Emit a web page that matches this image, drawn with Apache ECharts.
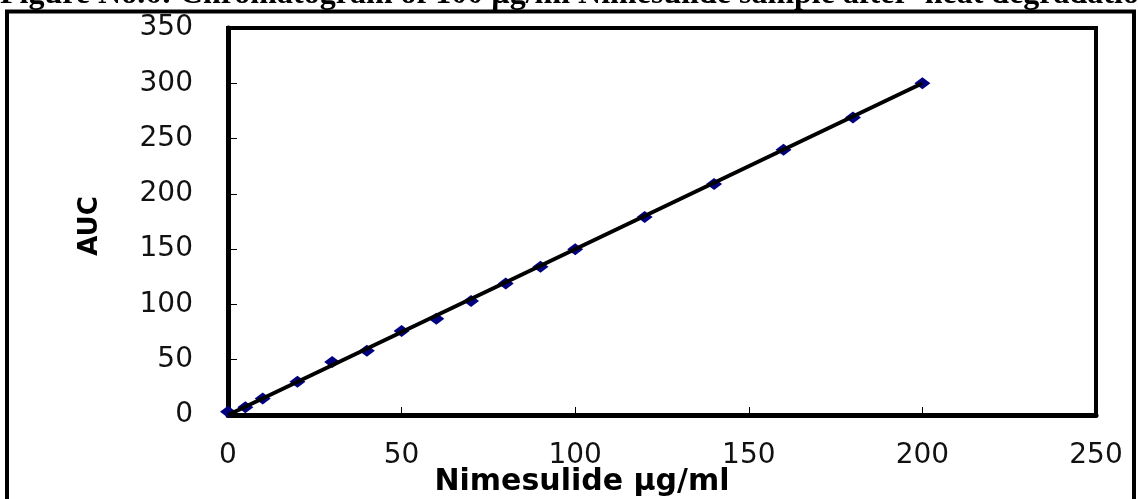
<!DOCTYPE html>
<html>
<head>
<meta charset="utf-8">
<script src="https://cdn.jsdelivr.net/npm/echarts@6/dist/echarts.min.js"></script>
<style>
  html, body { margin: 0; padding: 0; background: #fff; }
  #chart { width: 1138px; height: 499px; }
</style>
</head>
<body>
<div id="chart"></div>
<script>
// 数据
const concentration = [0, 5, 10, 20, 30, 40, 50, 60, 70, 80, 90, 100, 120, 140, 160, 180, 200]
const auc = [3, 7, 15, 30, 48, 58, 76, 87, 103, 119, 134, 150, 179, 209, 240, 269, 300]
// 回归线端点
const fitX = [0, 200]
const fitY = [0, 300]

const titleText = 'Figure No.6: Chromatogram of 100 µg/ml Nimesulide sample after  heat degradation'

const chart = echarts.init(document.getElementById('chart'))

const option = {
  animation: false,
  grid: {
    left: 228,
    right: 42,
    top: 28,
    bottom: 84,
    show: true,
    borderColor: '#000',
    borderWidth: 4
  },
  xAxis: {
    type: 'value',
    min: 0,
    max: 250,
    interval: 50,
    axisLine: { show: true, lineStyle: { color: '#000', width: 5 } },
    axisTick: { show: true, inside: true, length: 8, lineStyle: { color: '#000', width: 1 } },
    axisLabel: { margin: 27, color: '#111', fontFamily: 'DejaVu Sans', fontSize: 28 },
    splitLine: { show: false }
  },
  yAxis: {
    type: 'value',
    min: 0,
    max: 350,
    interval: 50,
    axisLine: { show: true, lineStyle: { color: '#000', width: 5 } },
    axisTick: { show: true, inside: true, length: 9, lineStyle: { color: '#000', width: 1 } },
    axisLabel: { margin: 35, color: '#111', fontFamily: 'DejaVu Sans', fontSize: 28 },
    splitLine: { show: false }
  },
  series: [
    {
      name: 'AUC',
      type: 'scatter',
      symbol: 'diamond',
      symbolSize: [16, 12],
      itemStyle: { color: '#000080', opacity: 1 },
      z: 2,
      data: concentration.map((x, i) => [x, auc[i]])
    },
    {
      name: 'fit',
      type: 'line',
      symbol: 'none',
      lineStyle: { color: '#000', width: 4 },
      z: 3,
      data: fitX.map((x, i) => [x, fitY[i]])
    }
  ],
  graphic: [
    // 外框
    {
      type: 'rect',
      shape: { x: 7, y: 11.5, width: 1127, height: 520 },
      style: { fill: 'none', stroke: '#000', lineWidth: 4 }
    },
    {
      type: 'text',
      left: 0,
      top: -21,
      style: {
        text: titleText,
        font: 'bold 32px "Liberation Serif"',
        fill: '#000'
      }
    },
    {
      type: 'text',
      x: 90,
      y: 226,
      rotation: Math.PI / 2,
      style: {
        text: 'AUC',
        font: 'bold 26px "DejaVu Sans"',
        fill: '#000',
        align: 'center',
        verticalAlign: 'middle'
      }
    },
    {
      type: 'text',
      x: 582,
      y: 482,
      style: {
        text: 'Nimesulide µg/ml',
        font: 'bold 30px "DejaVu Sans"',
        fill: '#000',
        align: 'center',
        verticalAlign: 'middle'
      }
    }
  ]
}

chart.setOption(option)
window.addEventListener('resize', () => chart.resize())
</script>
</body>
</html>
